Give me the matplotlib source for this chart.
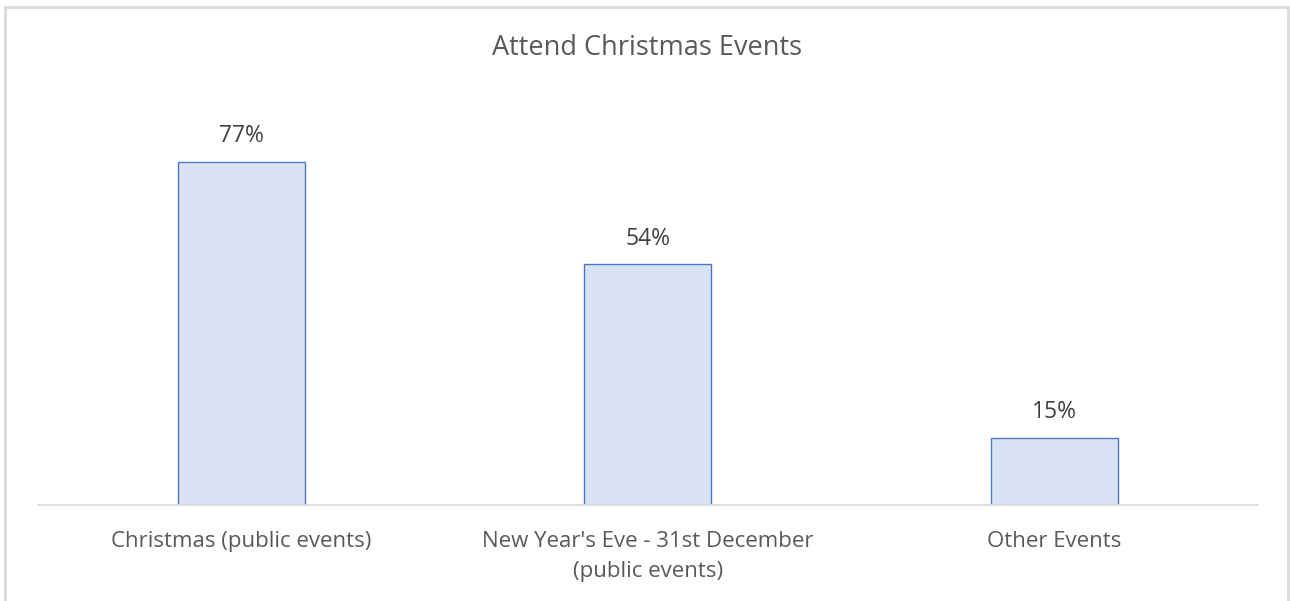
import matplotlib
matplotlib.use("Agg")
import matplotlib.pyplot as plt
from matplotlib.patches import Rectangle

categories = ["Christmas (public events)", "New Year's Eve - 31st December\n(public events)", "Other Events"]
values = [77, 54, 15]
value_labels = ["77%", "54%", "15%"]

plt.rcParams['font.family'] = ['Open Sans', 'DejaVu Sans']

fig = plt.figure(figsize=(12.9, 6.01), dpi=100)
W, H = 1290, 601

# outer chart border
fig.patches.append(Rectangle((5 / W, -0.05), 1283 / W, (594 / H) + 0.05, transform=fig.transFigure,
                             fill=False, edgecolor='#d9d9d9', linewidth=2))

ax = fig.add_axes([38 / W, (H - 505) / H, 1219.5 / W, 401 / H])
x = range(len(categories))
bars = ax.bar(x, values, width=0.3125, color='#dae3f3', edgecolor='#4a78c6', linewidth=1)
ax.set_xlim(-0.5, 2.5)
ax.set_ylim(0, 90)

for b, lab in zip(bars, value_labels):
    ax.annotate(lab, (b.get_x() + b.get_width() / 2, b.get_height()), xytext=(0, 10),
                textcoords='offset points', ha='center', va='bottom', fontsize=16.5, color='#404040')

ax.set_xticks(list(x))
ax.set_xticklabels(categories, fontsize=16, color='#595959', linespacing=1.55)
ax.tick_params(axis='x', length=0, pad=19)
ax.set_yticks([])
for s in ['top', 'right', 'left']:
    ax.spines[s].set_visible(False)
ax.spines['bottom'].set_color('#d9d9d9')
ax.spines['bottom'].set_linewidth(1.2)

fig.text(647 / W, 1 - 48 / H, "Attend Christmas Events", ha='center', va='center', fontsize=19.5, color='#595959')

fig.savefig("out.png", dpi=100, facecolor='white')
